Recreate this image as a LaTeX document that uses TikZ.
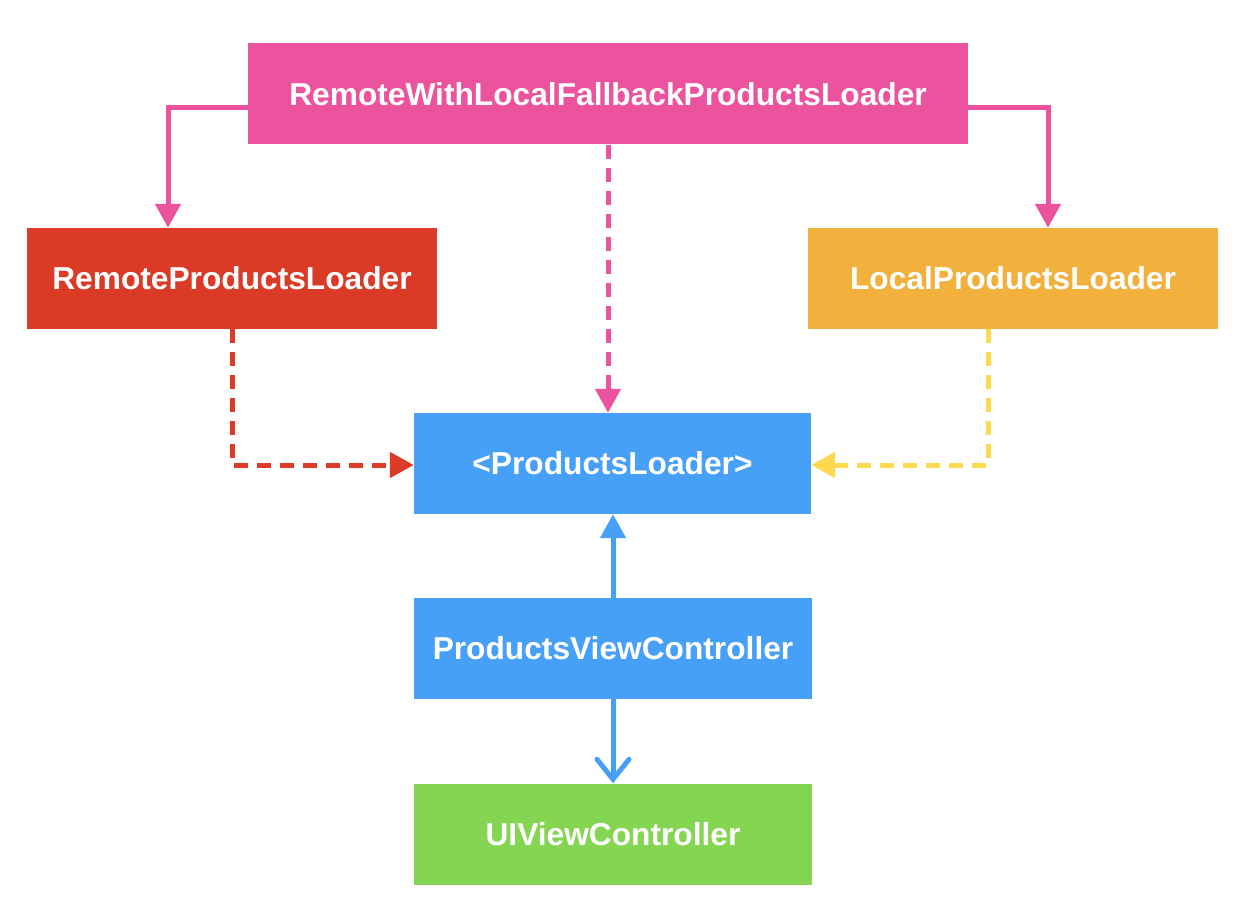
\documentclass[tikz,border=0pt]{standalone}
\usepackage{fontspec}
\setmainfont{Liberation Sans}
\usetikzlibrary{arrows.meta}
\definecolor{cpink}{HTML}{EC539E}
\definecolor{cred}{HTML}{DB3B26}
\definecolor{corange}{HTML}{F2B13C}
\definecolor{cblue}{HTML}{47A0F8}
\definecolor{cgreen}{HTML}{84D552}
\definecolor{cyellow}{HTML}{FDD94F}
\tikzset{
  box/.style={draw=none, minimum height=101pt, inner sep=0pt, text=white, font=\fontsize{31.7}{36}\selectfont\bfseries},
  conn/.style={line width=5pt},
  dash5/.style={dash pattern=on 14pt off 9pt},
  tri/.style={-{Triangle[width=25pt,length=24pt]}},
}
\begin{document}
\begin{tikzpicture}[x=1pt,y=-1pt]
\useasboundingbox (0,0) rectangle (1252,912);
\fill[white] (0,0) rectangle (1252,912);
\node[box, fill=cpink, minimum width=720pt] (top) at (608,94) {RemoteWithLocalFallbackProductsLoader};
\node[box, fill=cred, minimum width=410pt] (remote) at (232,278.5) {RemoteProductsLoader};
\node[box, fill=corange, minimum width=410pt] (local) at (1013,278.5) {LocalProductsLoader};
\node[box, fill=cblue, minimum width=397pt] (pl) at (612.5,463.5) {<ProductsLoader>};
\node[box, fill=cblue, minimum width=398pt] (pvc) at (613,648.5) {ProductsViewController};
\node[box, fill=cgreen, minimum width=398pt] (ui) at (613,834) {UIViewController};
\coordinate (lc) at (168,108);
\coordinate (rc) at (1048,108);
\draw[conn, cpink, tri] (top.west |- lc) -- (lc) -- (lc |- remote.north);
\draw[conn, cpink, tri] (top.east |- rc) -- (rc) -- (rc |- local.north);
\draw[conn, cpink, dash5, tri] (top.south) -- (pl.north -| top.south);
\coordinate (rd) at (232,465);
\coordinate (yd) at (988,465);
\draw[conn, cred, dash5, tri] (remote.south -| rd) -- (rd) -- (pl.west |- rd);
\draw[conn, cyellow, dash5, tri] (local.south -| yd) -- (yd) -- (pl.east |- yd);
\draw[conn, cblue, tri] (pvc.north) -- (pl.south -| pvc.north);
\draw[conn, cblue, -{Straight Barb[length=20pt,width=32pt,line cap=round]}] (pvc.south) -- (ui.north);
\end{tikzpicture}
\end{document}
